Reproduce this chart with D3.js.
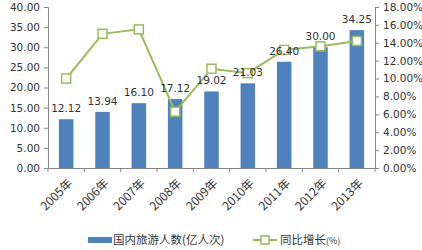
<!DOCTYPE html>
<html>
<head>
<meta charset="utf-8">
<script src="https://cdn.jsdelivr.net/npm/d3@7"></script>
<style>
  body { margin: 0; background: #fff; }
  text { font-family: "DejaVu Sans", sans-serif; fill: #333; }
  .cjk { font-family: "Noto Sans CJK SC", sans-serif; }
</style>
</head>
<body>
<svg id="chart" width="422" height="250"></svg>
<script>
// ------------------ DATA ------------------
let years = ["2005年", "2006年", "2007年", "2008年", "2009年", "2010年", "2011年", "2012年", "2013年"];
let visitors = [12.12, 13.94, 16.10, 17.12, 19.02, 21.03, 26.40, 30.00, 34.25]; // 亿人次
let growth = [10.0, 15.0, 15.5, 6.3, 11.1, 10.6, 13.2, 13.6, 14.2]; // %
let leftTicks = [0, 5, 10, 15, 20, 25, 30, 35, 40];
let rightTicks = [0, 2, 4, 6, 8, 10, 12, 14, 16, 18];

let barColor = "#4f81bd";
let lineColor = "#9bbb59";
let axisColor = "#868686";

let svg = d3.select("#chart");
let plotLeft = 48, plotRight = 375, plotTop = 7, plotBottom = 168;

let x = d3.scaleBand().domain(years).range([plotLeft, plotRight]).paddingInner(0.6).paddingOuter(0.3);
let band = d3.scaleBand().domain(years).range([plotLeft, plotRight]);
let yL = d3.scaleLinear().domain([0, 40]).range([plotBottom, plotTop]);
let yR = d3.scaleLinear().domain([0, 18]).range([plotBottom, plotTop]);

// ------------------ AXES ------------------
let leftAxis = svg.append("g")
    .attr("transform", "translate(" + plotLeft + ",0)")
    .call(d3.axisLeft(yL).tickValues(leftTicks).tickSize(4).tickPadding(4).tickFormat(d3.format(".2f")));

let rightAxis = svg.append("g")
    .attr("transform", "translate(" + plotRight + ",0)")
    .call(d3.axisRight(yR).tickValues(rightTicks).tickSize(4).tickPadding(4).tickFormat(d => d.toFixed(2) + "%"));

let bottomAxis = svg.append("g")
    .attr("transform", "translate(0," + plotBottom + ")")
    .call(d3.axisBottom(band).tickSize(0).tickFormat(""));

// tick marks at band boundaries
bottomAxis.selectAll("line.sep")
    .data(d3.range(years.length + 1))
    .enter().append("line")
    .attr("class", "sep")
    .attr("x1", (d) => plotLeft + d * band.step())
    .attr("x2", (d) => plotLeft + d * band.step())
    .attr("y1", 0).attr("y2", 4);

[leftAxis, rightAxis, bottomAxis].forEach((g) => {
    g.select(".domain").attr("stroke", axisColor);
    g.selectAll("line").attr("stroke", axisColor);
    g.selectAll("text").attr("font-size", 10.5).attr("fill", "#333");
});

// rotated year labels
svg.append("g")
    .selectAll("text")
    .data(years)
    .enter().append("text")
    .attr("class", "cjk")
    .attr("font-size", 12)
    .attr("text-anchor", "end")
    .attr("transform", (d) => "translate(" + (band(d) + band.bandwidth() / 2 + 7) + "," + 184 + ") rotate(-45)")
    .text((d) => d);

// ------------------ BARS ------------------
svg.append("g")
    .selectAll("rect")
    .data(visitors)
    .enter().append("rect")
    .attr("x", (d, i) => x(years[i]))
    .attr("y", (d) => yL(d))
    .attr("width", x.bandwidth())
    .attr("height", (d) => plotBottom - yL(d))
    .attr("fill", barColor);

// ------------------ LINE ------------------
let line = d3.line()
    .x((d, i) => band(years[i]) + band.bandwidth() / 2)
    .y((d) => yR(d));

svg.append("path")
    .datum(growth)
    .attr("d", line)
    .attr("fill", "none")
    .attr("stroke", lineColor)
    .attr("stroke-width", 2);

svg.append("g")
    .selectAll("rect")
    .data(growth)
    .enter().append("rect")
    .attr("x", (d, i) => band(years[i]) + band.bandwidth() / 2 - 4.5)
    .attr("y", (d) => yR(d) - 4.5)
    .attr("width", 9)
    .attr("height", 9)
    .attr("fill", "#fff")
    .attr("stroke", lineColor)
    .attr("stroke-width", 1.5);

// bar value labels
svg.append("g")
    .selectAll("text")
    .data(visitors)
    .enter().append("text")
    .attr("font-size", 10.5)
    .attr("text-anchor", "middle")
    .attr("x", (d, i) => band(years[i]) + band.bandwidth() / 2)
    .attr("y", (d) => yL(d) - 7)
    .text((d) => d.toFixed(2));

// ------------------ LEGEND ------------------
let legend = svg.append("g");
legend.append("rect")
    .attr("x", 88).attr("y", 237).attr("width", 24).attr("height", 6)
    .attr("fill", barColor);
legend.append("text")
    .attr("class", "cjk")
    .attr("x", 113).attr("y", 244)
    .attr("font-size", 11.5)
    .text("国内旅游人数(亿人次)");

legend.append("line")
    .attr("x1", 253).attr("x2", 277).attr("y1", 240).attr("y2", 240)
    .attr("stroke", lineColor).attr("stroke-width", 2);
legend.append("rect")
    .attr("x", 261).attr("y", 236).attr("width", 8).attr("height", 8)
    .attr("fill", "#fff").attr("stroke", lineColor).attr("stroke-width", 1.5);
let lt = legend.append("text")
    .attr("class", "cjk")
    .attr("x", 280).attr("y", 244)
    .attr("font-size", 11.5);
lt.append("tspan").text("同比增长");
lt.append("tspan").attr("font-size", 9).text("(%)");
</script>
</body>
</html>
